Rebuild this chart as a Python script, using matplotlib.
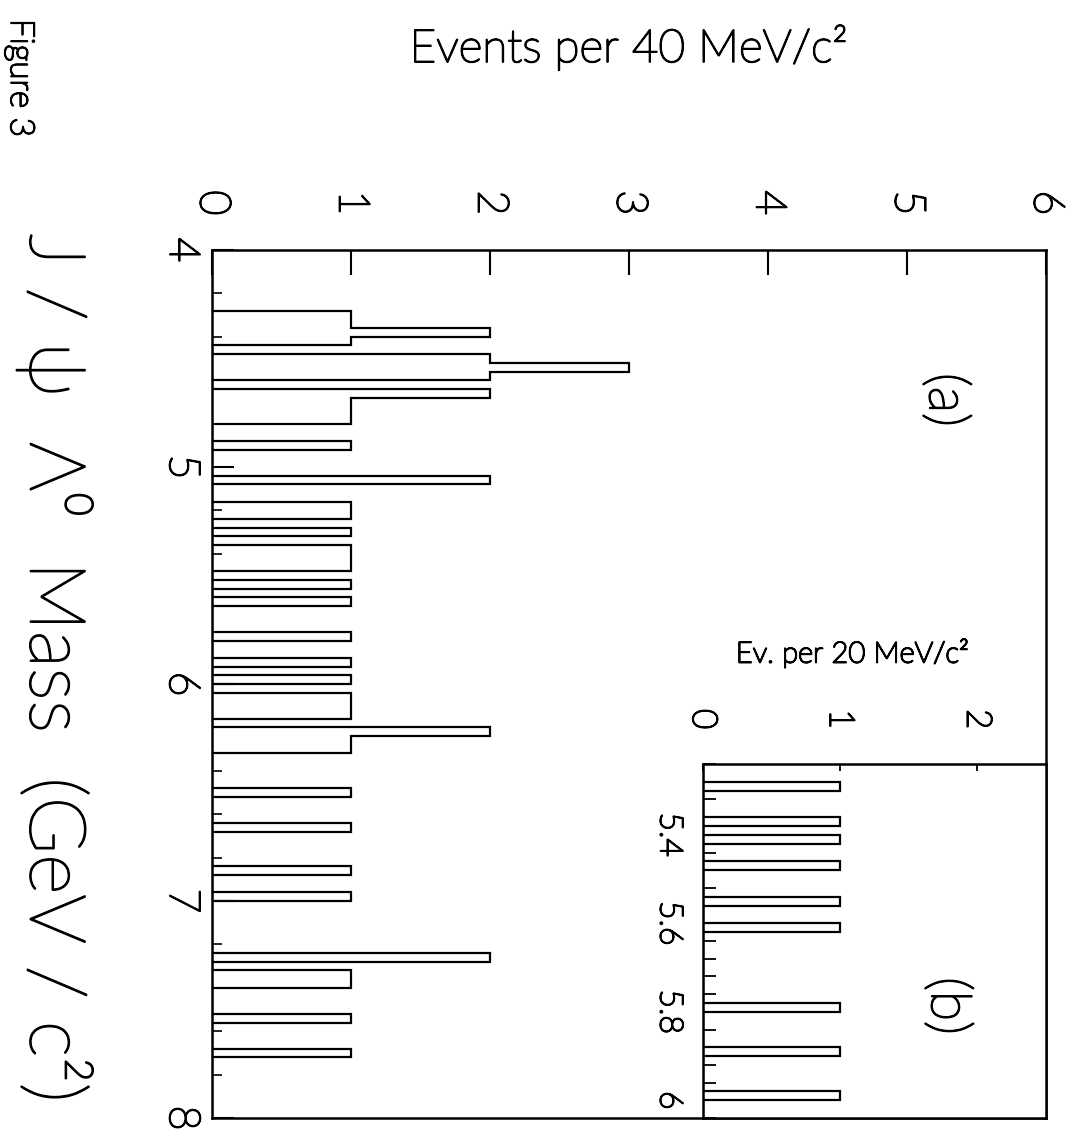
import numpy as np
import matplotlib
matplotlib.use('Agg')
import matplotlib.pyplot as plt
import matplotlib.patheffects as pe

plt.rcParams['font.family'] = ['Lato', 'DejaVu Sans']
plt.rcParams['font.weight'] = 'light'

# J/psi Lambda0 candidates, 40 MeV bins (bin centres, GeV/c^2) and entries per bin
main_mass = [4.30, 4.34, 4.38, 4.42, 4.50, 4.54, 4.58, 4.66, 4.70, 4.74,
             4.78, 4.90, 5.06, 5.18, 5.22, 5.30, 5.38, 5.42, 5.46, 5.54,
             5.62, 5.78, 5.90, 5.98, 6.06, 6.10, 6.14, 6.22, 6.26, 6.30,
             6.50, 6.66, 6.86, 6.98, 7.26, 7.34, 7.38, 7.54, 7.70]
main_n = [1, 1, 2, 1, 2, 3, 2, 2, 1, 1,
          1, 1, 2, 1, 1, 1, 1, 1, 1, 1,
          1, 1, 1, 1, 1, 1, 1, 2, 1, 1,
          1, 1, 1, 1, 2, 1, 1, 1, 1]

# inset (b): 20 MeV bins, one entry each
inset_mass = [5.29, 5.37, 5.41, 5.47, 5.55, 5.61, 5.79, 5.89, 5.99]

main_xticks = [0, 1, 2, 3, 4, 5, 6]
main_yticks = [4, 5, 6, 7, 8]
inset_xticks = [0, 1, 2]
inset_yticks = [5.4, 5.6, 5.8, 6.0]
inset_ylabels = ['5.4', '5.6', '5.8', '6']

W, H = 1072, 1137
fig = plt.figure(figsize=(W / 100, H / 100), dpi=100)
thick = [pe.withStroke(linewidth=1.3, foreground='black')]


def box(x0, y0, x1, y1):
    return [x0 / W, 1 - y1 / H, (x1 - x0) / W, (y1 - y0) / H]


ax = fig.add_axes(box(212, 250, 1046, 1118))
ax.hist(main_mass, bins=np.linspace(4, 8, 101), weights=main_n,
        histtype='step', orientation='horizontal', color='black', lw=1.6)
ax.set_xlim(0, 6)
ax.set_ylim(8, 4)
ax.xaxis.tick_top()
ax.set_xticks(main_xticks)
ax.set_yticks(main_yticks)
ax.set_yticks(np.arange(4, 8.001, 0.2), minor=True)
ax.tick_params(axis='x', which='major', direction='in', length=18, width=1.5,
               pad=25, labelsize=31, labelrotation=-90)
ax.tick_params(axis='y', which='major', direction='in', length=16, width=1.5,
               pad=8, labelsize=31, labelrotation=-90)
ax.tick_params(axis='y', which='minor', direction='in', length=7, width=1.2)
for s in ax.spines.values():
    s.set_linewidth(1.8)

axi = fig.add_axes(box(703, 764, 1046, 1118))
axi.hist(inset_mass, bins=np.linspace(5.24, 6.04, 41),
         histtype='step', orientation='horizontal', color='black', lw=1.6)
axi.set_xlim(0, 2.5)
axi.set_ylim(6.04, 5.24)
axi.xaxis.tick_top()
axi.set_xticks(inset_xticks)
axi.set_yticks(inset_yticks)
axi.set_yticklabels(inset_ylabels)
axi.set_yticks(np.arange(5.24, 6.041, 0.04), minor=True)
axi.tick_params(axis='x', which='major', direction='in', length=5, width=1.3,
                pad=25, labelsize=25, labelrotation=-90)
axi.tick_params(axis='y', which='both', direction='in', length=9, width=1.3,
                pad=14, labelsize=23, labelrotation=-90)
for s in axi.spines.values():
    s.set_linewidth(1.8)

for a in (ax, axi):
    for lab in a.get_yticklabels():
        lab.set_va('center')
        lab.set_path_effects(thick)
    for lab in a.get_xticklabels():
        lab.set_path_effects(thick)

texts = [
    fig.text(629 / W, 1 - 47 / H, 'Events per 40 MeV/c²', ha='center', va='center', fontsize=33),
    fig.text(852 / W, 1 - 653 / H, 'Ev. per 20 MeV/c²', ha='center', va='center', fontsize=21),
    fig.text(20 / W, 1 - 78 / H, 'Figure 3', rotation=-90, ha='center', va='center', fontsize=24),
    fig.text(55 / W, 1 - 668 / H, 'J / ψ  Λ⁰  Mass  (GeV / c²)', rotation=-90,
             ha='center', va='center', fontsize=56),
    fig.text(945 / W, 1 - 400 / H, '(a)', rotation=-90, ha='center', va='center', fontsize=40),
    fig.text(947 / W, 1 - 1006 / H, '(b)', rotation=-90, ha='center', va='center', fontsize=40),
]
for t in texts:
    t.set_path_effects(thick)

fig.savefig('out.png', dpi=100)
